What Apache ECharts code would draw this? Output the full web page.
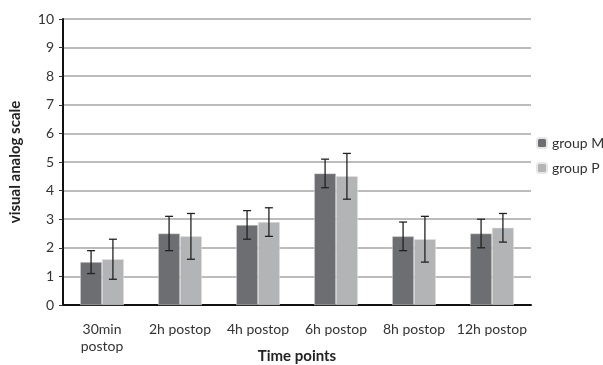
<!DOCTYPE html>
<html><head><meta charset="utf-8">
<script src="https://cdn.jsdelivr.net/npm/echarts@6/dist/echarts.min.js"></script>
<style>html,body{margin:0;padding:0;background:#fff}#c{width:603px;height:365px}</style>
</head><body><div id="c"></div>
<script>
const categories = ['30min\npostop', '2h postop', '4h postop', '6h postop', '8h postop', '12h postop'];
const groupM = [1.5, 2.5, 2.8, 4.6, 2.4, 2.5];
const groupP = [1.6, 2.4, 2.9, 4.5, 2.3, 2.7];
const errM = [0.4, 0.6, 0.5, 0.5, 0.5, 0.5];
const errP = [0.7, 0.8, 0.5, 0.8, 0.8, 0.5];
const yTicks = [0, 1, 2, 3, 4, 5, 6, 7, 8, 9, 10];

const GAP = 0.44;
const chart = echarts.init(document.getElementById('c'));
function errSeries(vals, errs, side) {
  return {
    type: 'custom',
    silent: true,
    z: 10,
    data: vals.map((v, i) => [i, v - errs[i], v + errs[i]]),
    renderItem: function (params, api) {
      const catW = api.size([1, 0])[0];
      const bw = catW * (1 - GAP) / 2;
      const lo = api.coord([api.value(0), api.value(1)]);
      const hi = api.coord([api.value(0), api.value(2)]);
      const x = lo[0] + side * bw / 2;
      const cap = 4;
      const st = { stroke: '#222', lineWidth: 1.3 };
      return {
        type: 'group',
        children: [
          { type: 'line', shape: { x1: x, y1: lo[1], x2: x, y2: hi[1] }, style: st },
          { type: 'line', shape: { x1: x - cap, y1: lo[1], x2: x + cap, y2: lo[1] }, style: st },
          { type: 'line', shape: { x1: x - cap, y1: hi[1], x2: x + cap, y2: hi[1] }, style: st }
        ]
      };
    }
  };
}
chart.setOption({
  animation: false,
  textStyle: { fontFamily: 'Lato, Noto Sans, sans-serif' },
  grid: { left: 63, right: 72, top: 19, bottom: 60, containLabel: false, outerBoundsMode: 'none' },
  legend: {
    orient: 'vertical', left: 531, top: 131, itemWidth: 10, itemHeight: 10, itemGap: 11,
    textStyle: { fontSize: 14, color: '#333' },
    data: ['group M', 'group P']
  },
  xAxis: {
    type: 'category', data: categories,
    name: 'Time points', nameLocation: 'middle', nameGap: 44, nameMoveOverlap: false,
    nameTextStyle: { fontSize: 15, fontWeight: 'bold', color: '#222' },
    axisLine: { lineStyle: { color: '#111', width: 2 } },
    axisTick: { length: 5, lineStyle: { color: '#333', width: 1 } },
    axisLabel: { interval: 0, fontSize: 14, color: '#333', margin: 16, lineHeight: 17 }
  },
  yAxis: {
    type: 'value', min: 0, max: 10, interval: 1,
    name: 'visual analog scale', nameLocation: 'middle', nameGap: 40, nameMoveOverlap: false,
    nameTextStyle: { fontSize: 15, fontWeight: 'bold', color: '#222' },
    axisLine: { show: true, lineStyle: { color: '#111', width: 2 } },
    axisTick: { show: true, length: 4, lineStyle: { color: '#333' } },
    axisLabel: { fontSize: 14, color: '#333', margin: 9, formatter: v => yTicks.includes(v) ? String(v) : '' },
    splitLine: { lineStyle: { color: '#a6a6a6', width: 1.5 } }
  },
  series: [
    { name: 'group M', type: 'bar', data: groupM, barGap: '0%', barCategoryGap: (GAP * 100) + '%',
      itemStyle: { color: '#6d6e71', borderColor: '#e6e6e6', borderWidth: 0.5 } },
    { name: 'group P', type: 'bar', data: groupP,
      itemStyle: { color: '#b3b4b6', borderColor: '#e6e6e6', borderWidth: 0.5 } },
    errSeries(groupM, errM, -1),
    errSeries(groupP, errP, 1)
  ]
});
</script></body></html>
